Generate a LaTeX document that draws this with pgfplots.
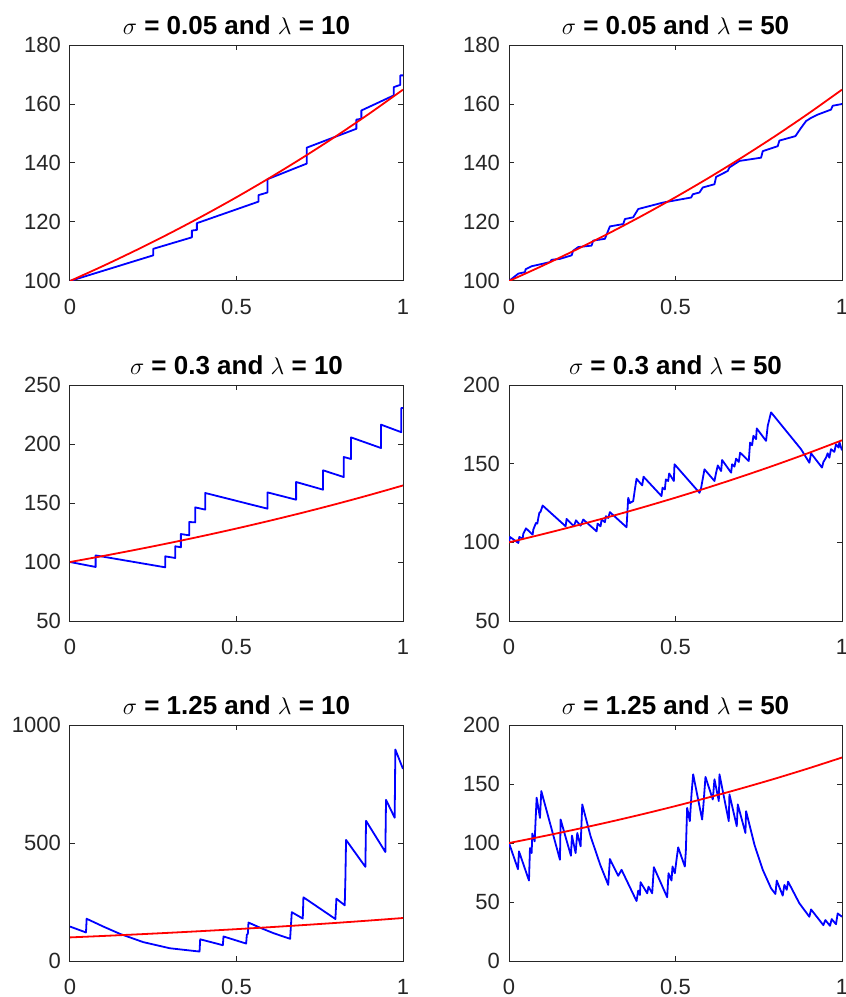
\documentclass[border=0pt]{standalone}
\usepackage{fontspec}
\setmainfont{Liberation Sans}
\usepackage{pgfplots}
\pgfplotsset{compat=1.18}

\definecolor{axgray}{RGB}{38,38,38}

\pgfplotsset{
  mlpanel/.style={
    scale only axis,
    width=166.5pt, height=118pt,
    anchor=north west,
    xmin=0, xmax=1,
    xtick={0,0.5,1},
    tick align=inside,
    major tick length=2.5pt,
    axis line style={axgray, line width=0.5pt},
    tick style={axgray, line width=0.5pt},
    ticklabel style={font=\fontsize{11}{13}\selectfont, text=axgray},
    /pgf/number format/assume math mode=true,
    /pgf/number format/1000 sep={},
    xticklabel style={yshift=-5.5pt},
    yticklabel style={xshift=-1pt},
    title style={font=\bfseries\fontsize{13}{15}\selectfont,
                 at={(0.5,1)}, anchor=base, yshift=-0.5pt},
    clip=true,
  },
  blueline/.style={blue, line width=0.9pt, line join=round},
  redline/.style={red, line width=0.9pt, smooth},
}

\begin{document}
\begin{tikzpicture}
\path[use as bounding box] (0,0) rectangle (423pt,-498.5pt);

% ---- row 1, left
\begin{axis}[mlpanel, at={(35pt,-22.5pt)},
  title={$\sigma$ = 0.05 and $\lambda$ = 10},
  ymin=100, ymax=180, ytick={100,120,140,160,180}]
  \addplot[blueline] coordinates {
    (0,100)(0.25,108.7)(0.25,110.9)(0.366,114.8)(0.366,117.1)(0.381,117.3)
    (0.381,119.6)(0.566,126.9)(0.566,129.1)(0.593,130)(0.593,134.5)
    (0.711,139.8)(0.711,145.2)(0.86,151.6)(0.86,154.7)(0.875,155)(0.875,157.8)
    (0.972,162.9)(0.972,165.7)(0.992,166.5)(0.992,169.7)(1,169.7)
  };
  \addplot[redline] coordinates {
    (0,100)(0.1,105.13)(0.2,110.52)(0.3,116.18)(0.4,122.14)(0.5,128.40)
    (0.6,134.99)(0.7,141.91)(0.8,149.18)(0.9,156.83)(1,164.87)
  };
\end{axis}

% ---- row 1, right
\begin{axis}[mlpanel, at={(254.5pt,-22.5pt)},
  title={$\sigma$ = 0.05 and $\lambda$ = 50},
  ymin=100, ymax=180, ytick={100,120,140,160,180}]
  \addplot[blueline] coordinates {
    (0,100)(0.028,102.5)(0.048,103)(0.05,104)(0.068,105)(0.123,106.4)(0.128,107.2)
    (0.153,107.5)(0.188,108.7)(0.193,110.3)(0.208,111.5)(0.248,112)(0.253,113.7)
    (0.288,114.3)(0.303,118.5)(0.343,119.3)(0.348,121)(0.373,121.6)(0.388,124.4)
    (0.463,126.6)(0.547,128.3)(0.552,129.4)(0.572,130)(0.582,131.7)(0.617,132.8)
    (0.622,135.3)(0.657,137.3)(0.662,138.5)(0.692,140.7)(0.757,141.8)(0.762,144)
    (0.807,145.7)(0.812,147.6)(0.86,149.1)(0.877,151.9)(0.892,154.2)(0.907,155.3)
    (0.927,156.4)(0.967,158.1)(0.972,159.4)(1,160)
  };
  \addplot[redline] coordinates {
    (0,100)(0.1,105.13)(0.2,110.52)(0.3,116.18)(0.4,122.14)(0.5,128.40)
    (0.6,134.99)(0.7,141.91)(0.8,149.18)(0.9,156.83)(1,164.87)
  };
\end{axis}

% ---- row 2, left
\begin{axis}[mlpanel, at={(35pt,-192.5pt)},
  title={$\sigma$ = 0.3 and $\lambda$ = 10},
  ymin=50, ymax=250, ytick={50,100,150,200,250}]
  \addplot[blueline] coordinates {
    (0,100)(0.077,95.8)(0.077,105.6)(0.286,95.5)(0.286,104.8)(0.316,103.4)
    (0.316,113.3)(0.333,112.5)(0.333,123.7)(0.358,122.6)(0.358,133.9)
    (0.376,133.6)(0.376,146.3)(0.406,144.4)(0.406,158.5)(0.593,145.2)
    (0.593,159)(0.679,152.8)(0.679,167.8)(0.76,161.3)(0.76,177.7)(0.822,172)
    (0.822,189)(0.844,187.3)(0.844,205.6)(0.934,196.6)(0.934,216.4)
    (0.995,210)(0.995,230.5)(1,230.5)
  };
  \addplot[redline] coordinates {
    (0,100)(0.1,105.13)(0.2,110.52)(0.3,116.18)(0.4,122.14)(0.5,128.40)
    (0.6,134.99)(0.7,141.91)(0.8,149.18)(0.9,156.83)(1,164.87)
  };
\end{axis}

% ---- row 2, right
\begin{axis}[mlpanel, at={(254.5pt,-192.5pt)},
  title={$\sigma$ = 0.3 and $\lambda$ = 50},
  ymin=50, ymax=200, ytick={50,100,150,200}]
  \addplot[blueline] coordinates {
    (0,100)(0.003,103.4)(0.028,99.6)(0.031,103.4)(0.041,102.3)(0.043,105.5)
    (0.051,108.9)(0.071,104.9)(0.073,108.1)(0.081,112.3)(0.085,111.9)
    (0.088,115.5)(0.091,118.7)(0.095,119.5)(0.101,123.4)(0.17,110.2)
    (0.173,114.9)(0.195,110.2)(0.201,114)(0.215,110.6)(0.223,114.5)
    (0.263,107)(0.266,111.9)(0.275,110.2)(0.278,114.5)(0.288,112.8)
    (0.291,116.6)(0.298,115.5)(0.303,119.2)(0.353,109.6)(0.358,128.3)
    (0.363,125)(0.373,126.2)(0.378,133.6)(0.383,140.4)(0.4,136.2)
    (0.404,141.7)(0.458,129.4)(0.461,134.7)(0.468,133.6)(0.471,140)
    (0.478,139)(0.481,143.8)(0.495,139)(0.497,149.6)(0.572,131.5)
    (0.577,134.7)(0.587,146.4)(0.617,139)(0.622,144.3)(0.627,148.9)
    (0.637,145.3)(0.64,152.3)(0.667,144.3)(0.67,149.6)(0.677,148.1)
    (0.682,153.2)(0.69,151.1)(0.694,157)(0.72,151.7)(0.724,163.4)
    (0.73,161.7)(0.734,167.7)(0.742,165.6)(0.744,172.4)(0.772,164.5)
    (0.777,174.1)(0.787,182.6)(0.877,159.2)(0.902,150.6)(0.907,156.6)
    (0.94,147.5)(0.944,151)(0.952,153.8)(0.957,156.6)(0.962,153.8)
    (0.967,159.2)(0.977,157.5)(0.982,162.3)(0.99,160.2)(0.992,163.8)
    (1,158.5)
  };
  \addplot[redline] coordinates {
    (0,100)(0.1,105.13)(0.2,110.52)(0.3,116.18)(0.4,122.14)(0.5,128.40)
    (0.6,134.99)(0.7,141.91)(0.8,149.18)(0.9,156.83)(1,164.87)
  };
\end{axis}

% ---- row 3, left
\begin{axis}[mlpanel, at={(35pt,-362.5pt)},
  title={$\sigma$ = 1.25 and $\lambda$ = 10},
  ymin=0, ymax=1000, ytick={0,500,1000}]
  \addplot[blueline] coordinates {
    (0,146)(0.048,121)(0.05,179)(0.1,146)(0.15,115)(0.22,80)(0.3,54)
    (0.389,40)(0.391,92)(0.459,67)(0.461,104)(0.529,74)(0.531,111)
    (0.534,115)(0.536,163)(0.571,141)(0.611,118)(0.661,94)(0.666,207)
    (0.699,180)(0.701,270)(0.797,178)(0.8,264)(0.825,236)(0.827,348)
    (0.829,513)(0.887,399)(0.889,594)(0.947,462)(0.949,683)(0.975,607)
    (0.977,896)(1,814)
  };
  \addplot[redline] coordinates {
    (0,100)(0.1,106.18)(0.2,112.75)(0.3,119.72)(0.4,127.12)(0.5,134.99)
    (0.6,143.33)(0.7,152.20)(0.8,161.61)(0.9,171.60)(1,182.21)
  };
\end{axis}

% ---- row 3, right
\begin{axis}[mlpanel, at={(254.5pt,-362.5pt)},
  title={$\sigma$ = 1.25 and $\lambda$ = 50},
  ymin=0, ymax=200, ytick={0,50,100,150,200}]
  \addplot[blueline] coordinates {
    (0,100)(0.027,77.8)(0.03,92.9)(0.06,68.2)(0.063,95.7)(0.068,91.5)
    (0.07,108)(0.077,101.4)(0.08,119.9)(0.083,138.4)(0.093,121.3)
    (0.097,144)(0.153,85.8)(0.155,119.9)(0.186,89.2)(0.189,106.3)
    (0.2,91.5)(0.205,108.5)(0.215,97.2)(0.22,132.7)(0.245,105.7)
    (0.274,81.5)(0.298,64.5)(0.303,86.4)(0.328,72.2)(0.338,77.3)
    (0.383,50.8)(0.388,59.7)(0.393,56)(0.395,66.8)(0.415,57.4)
    (0.419,63)(0.43,57.4)(0.435,79.5)(0.475,54)(0.479,74.4)(0.488,68.2)
    (0.491,80.1)(0.498,74.4)(0.503,85.8)(0.508,96.3)(0.528,80.1)
    (0.531,92.9)(0.535,129.8)(0.543,118.5)(0.548,141.2)(0.553,158.2)
    (0.58,119.9)(0.584,132.7)(0.59,156)(0.612,136.9)(0.617,154)
    (0.63,135.5)(0.632,158.2)(0.66,118.5)(0.662,141.2)(0.684,114.2)
    (0.687,132.7)(0.71,108.5)(0.712,127)(0.737,98.6)(0.762,77.3)
    (0.787,61.6)(0.8,56.8)(0.804,68.2)(0.822,55.4)(0.827,64.5)
    (0.834,60.3)(0.838,67.3)(0.872,48.9)(0.902,37.5)(0.907,43.7)
    (0.944,30.4)(0.95,34.7)(0.964,29.8)(0.969,35.5)(0.982,31.2)
    (0.987,40.3)(1,37.5)
  };
  \addplot[redline] coordinates {
    (0,100)(0.1,105.60)(0.2,111.52)(0.3,117.76)(0.4,124.36)(0.5,131.32)
    (0.6,138.68)(0.7,146.45)(0.8,154.65)(0.9,163.32)(1,172.46)
  };
\end{axis}
\end{tikzpicture}
\end{document}
